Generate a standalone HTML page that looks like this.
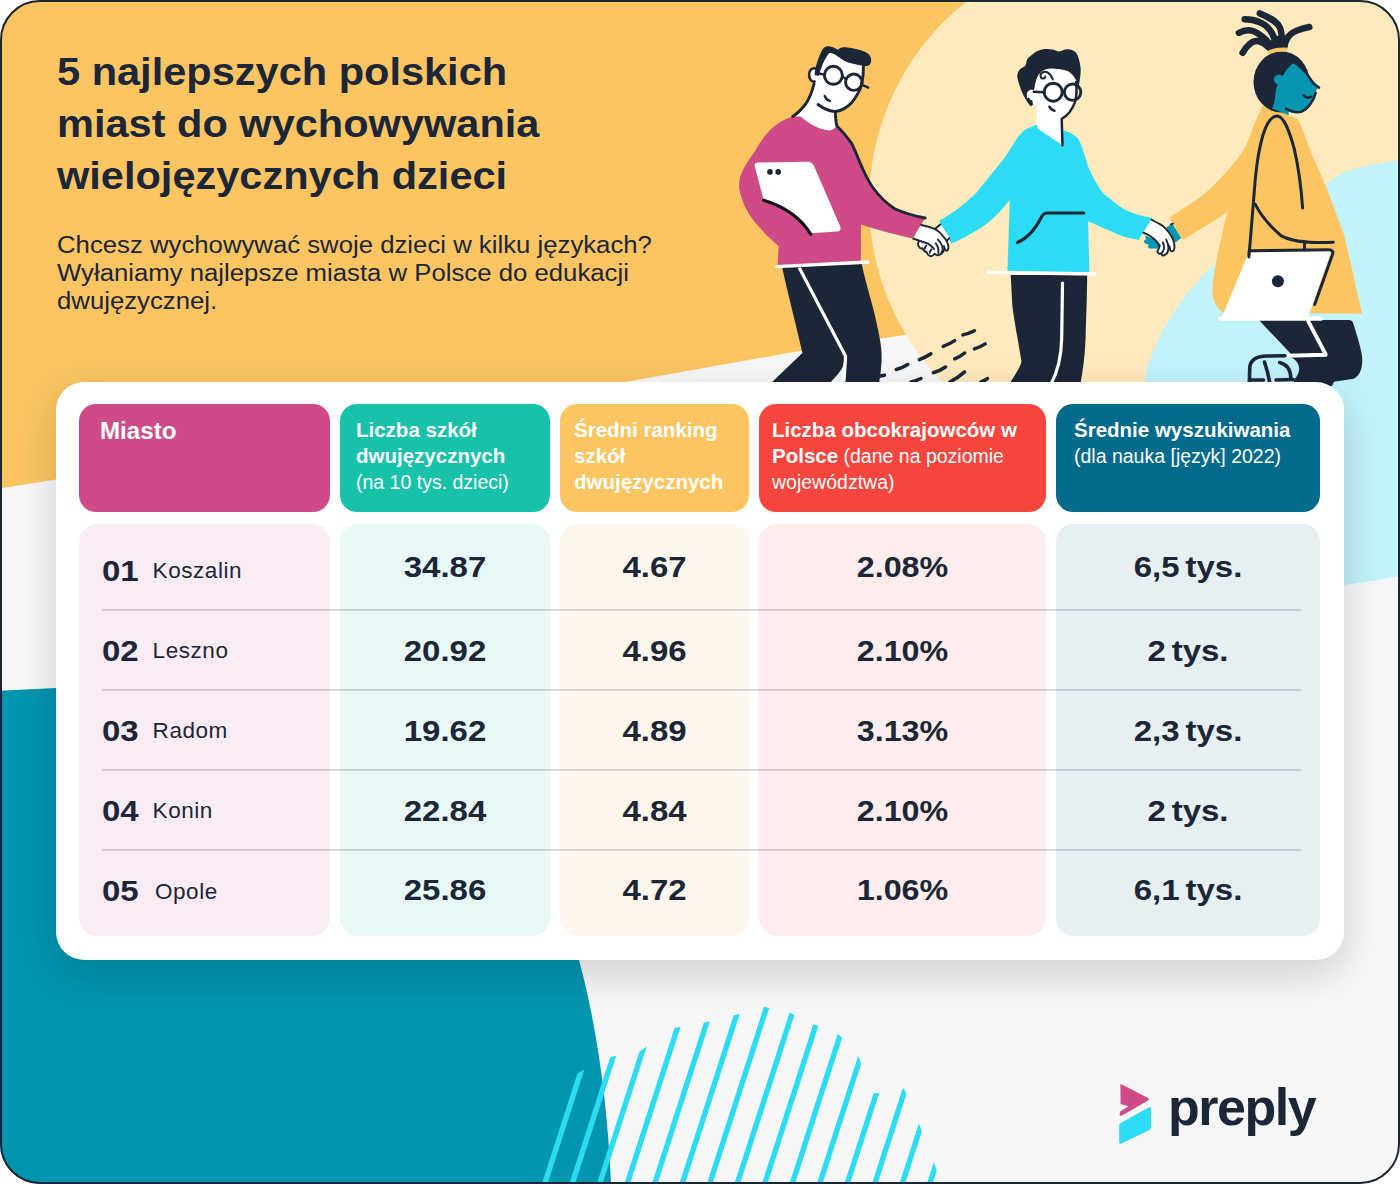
<!DOCTYPE html>
<html lang="pl">
<head>
<meta charset="utf-8">
<title>5 najlepszych polskich miast do wychowywania wielojęzycznych dzieci</title>
<style>
html,body{margin:0;padding:0;background:#fff;}
body{width:1400px;height:1184px;position:relative;overflow:hidden;font-family:"Liberation Sans",sans-serif;color:#1b2637;}
.frame{position:absolute;left:0;top:0;width:1400px;height:1184px;box-sizing:border-box;border-radius:40px;overflow:hidden;background:#f6f6f7;}
.frame-border{position:absolute;left:0;top:0;width:1400px;height:1184px;box-sizing:border-box;border:2px solid #1b2637;border-radius:40px;pointer-events:none;z-index:20;}
svg.bg{position:absolute;left:0;top:0;width:1400px;height:1184px;display:block;}
h1{position:absolute;left:57px;top:45.5px;margin:0;font-size:39px;line-height:52.2px;transform:scaleX(1.065);font-weight:700;color:#1b2637;white-space:nowrap;transform-origin:0 0;}
.sub{position:absolute;left:57px;top:231.1px;margin:0;font-size:23.5px;line-height:28px;transform:scaleX(1.095);color:#1b2637;white-space:nowrap;transform-origin:0 0;}
.card{position:absolute;left:56px;top:382px;width:1288px;height:578px;background:#fff;border-radius:28px;box-shadow:0 14px 42px rgba(10,10,20,0.17);}
.hd{position:absolute;top:22px;height:108px;border-radius:17px;color:#fff;box-sizing:border-box;}
.bd{position:absolute;top:142px;height:412px;border-radius:18px;}
.c1{left:23px;width:251px;}
.c2{left:284px;width:210px;}
.c3{left:504px;width:189px;}
.c4{left:703px;width:287px;}
.c5{left:1000px;width:264px;}
.hd.c1{background:#ce4b87;}
.hd.c2{background:#17c1aa;}
.hd.c3{background:#fcc562;}
.hd.c4{background:#f8463e;}
.hd.c5{background:#026a8a;}
.bd.c1{background:#faecf4;}
.bd.c2{background:#e8f8f7;}
.bd.c3{background:#fff7ee;}
.bd.c4{background:#ffecec;}
.bd.c5{background:#e6eff2;}
.hd p{position:absolute;margin:0;white-space:nowrap;font-size:19.5px;line-height:26px;transform-origin:0 0;}
.hd b{font-weight:700;font-size:20.5px;}
.sep{position:absolute;left:46px;width:1199px;height:2px;background:rgba(27,38,55,0.17);}
.num{position:absolute;left:46px;font-size:30px;font-weight:700;line-height:30px;white-space:nowrap;transform:scaleX(1.1);transform-origin:0 50%;}
.city{position:absolute;font-size:22.5px;line-height:26px;white-space:nowrap;letter-spacing:0.55px;}
.val{position:absolute;font-size:30px;font-weight:700;line-height:30px;text-align:center;white-space:nowrap;transform:scaleX(1.1);word-spacing:-3px;}
.val.v4{transform:scaleX(1.075);}
.logo{position:absolute;left:1168px;top:1078.5px;font-size:52px;line-height:56px;font-weight:700;color:#1b2637;letter-spacing:-1.5px;white-space:nowrap;}
</style>
</head>
<body>
<div class="frame">
<svg class="bg" viewBox="0 0 1400 1184">
<defs>
<clipPath id="stripeclip"><polygon points="560.0,1084.0 581.9,1070.7 612.2,1056.4 637.2,1052.9 674.7,1027.9 705.1,1022.5 733.6,1015.4 764.0,1007.1 786.0,1010.7 811.0,1023.6 836.0,1032.1 857.4,1053.6 871.7,1093.9 903.9,1088.6 919.9,1126.1 934.2,1162.9 941.0,1184.0 941.0,1190.0 530.0,1190.0"/></clipPath>
</defs>
<rect x="0" y="0" width="1400" height="1184" fill="#f7f7f8"/>
<!-- yellow top shape -->
<path id="yellowbg" d="M0,0 H1400 V320 H960 L906,334.8 L800,351.1 L730,363.2 L627,381.7 L340,431 L56,479.5 L0,488.6 Z" fill="#fcc562"/>
<!-- cream circle -->
<circle cx="1125.3" cy="202.5" r="256.2" fill="#feeabc"/>
<rect x="1125" y="0" width="275" height="400" fill="#feeabc"/>
<!-- light cyan blob -->
<path id="cyanbg" d="M1410.0,158.0 C1408.3,158.3 1410.0,158.0 1400.0,160.0 C1390.0,162.0 1362.4,166.0 1350.0,170.0 C1337.6,174.0 1335.8,178.2 1325.8,184.0 C1315.8,189.8 1302.6,196.8 1290.0,205.0 C1277.4,213.2 1262.5,223.2 1250.0,233.0 C1237.5,242.8 1223.4,256.2 1215.1,263.8 C1206.8,271.4 1205.5,273.0 1200.3,278.6 C1195.1,284.2 1190.1,289.3 1184.0,297.6 C1177.9,305.9 1169.4,318.5 1163.8,328.6 C1158.2,338.7 1153.4,349.6 1150.3,358.4 C1147.2,367.2 1146.1,372.8 1144.9,381.4 C1143.7,390.0 1142.2,396.9 1143.0,410.0 C1143.8,423.1 1144.7,441.7 1150.0,460.0 C1155.3,478.3 1163.3,502.5 1175.0,520.0 C1186.7,537.5 1202.5,553.7 1220.0,565.0 C1237.5,576.3 1259.3,584.7 1280.0,588.0 C1300.7,591.3 1324.0,587.0 1344.0,585.0 C1364.0,583.0 1389.0,577.8 1400.0,576.0 C1411.0,574.2 1408.3,574.3 1410.0,574.0 Z" fill="#c2f3fa"/>
<!-- ILLUS-START -->
<!-- ground dashes -->
<g id="dashes" stroke="#1b2637" stroke-width="3.5" stroke-linecap="round" fill="none">
<path d="M962.9,334.9 Q969,333.5 974.5,330.8"/>
<path d="M943.2,346.4 Q949.5,344 954.7,340.6"/>
<path d="M974.5,348.9 Q980.5,347 985.2,343.9"/>
<path d="M919.3,359.6 Q925.5,357.5 930.9,353.8"/>
<path d="M954.7,358.8 Q960.5,356.5 964.6,353"/>
<path d="M896.3,369.5 Q902.5,367.8 907.8,364.5"/>
<path d="M933.3,372.8 Q940,370.8 945.6,367"/>
<path d="M949.8,382 Q958,378 964.6,371.9"/>
<path d="M981,382 Q985,380.5 987.6,378.5"/>
<path d="M911,382 Q917,380.5 921,378.5"/>
<path d="M879,376.3 L884.5,375.2"/>
</g>
<!-- ===== person 1 ===== -->
<g id="p1">
<path d="M781.9,266 L800,266 L844.5,356 C844.5,364 842.5,369 838,374 L829,384 L770,384 L802.4,353 C795,320 788,295 781.9,266 Z" fill="#1b2637"/>
<path d="M797,266 L861.7,264 C866,285 873.2,305.2 877,325 C880.5,340 882.3,352 881.5,362 C881,370 880,377 879,384 L843.4,384 L845.2,356.3 Z" fill="#1b2637"/>
<path d="M799.1,267.4 L845.6,356.3 L843.8,384" stroke="#fff" stroke-width="3.2" fill="none" stroke-linejoin="round"/>
<!-- neck + face -->
<path d="M829.2,52 C824,58 818.5,68 815.6,76 C814,84 810,96 805.7,104 C801,110 797,114 792.6,116.4 L800,124 L828.8,134 L838,128 L835.6,111.5 C842,110 848,106 851.8,102.4 C857,96 860,90 861.7,84.3 C863,78 863.6,72 863.4,66 L850,58 Z" fill="#fff"/>
<!-- sweater -->
<path d="M792.6,116.4 C785,119 777,123 771.2,128.8 C764,136 759,144 754.7,151.8 C748,161 742,170 739.9,178.2 C738.5,184 739,190 740.5,194 C742,200 744,205 746.5,209.8 C751,218 757,225 762.9,231.2 C768,237 774,242 778.6,246 L777.7,265.5 L860.9,261.5 L860.9,224.6 C878,230 896,235 912.7,238.6 L925.1,218 C914,216 904,213 894.6,208.8 C886,203 879,196 873.2,188 C868,181 865,174 861.7,166.6 C858,158 855,150 851.8,143.6 C847,137 842,131 837,126.3 C834,129 832,130.5 828.8,130.4 C818,129 808,123 800.8,116.4 Z" fill="#ce4b87"/>
<path d="M776.9,266.6 L868,262" stroke="#fff" stroke-width="3.4" stroke-linecap="round" fill="none"/>
<!-- outlines -->
<g stroke="#1b2637" stroke-width="2.9" fill="none" stroke-linecap="round" stroke-linejoin="round">
<path d="M814,84 C812,92 809,99 805.7,104 C801,110 797,114 792.6,116.4"/>
<path d="M818,104.5 C824,109 830,111.5 835.4,111.5 C842,110.5 848,106.5 851.8,102.4 C857,96 860,90 861.7,84.3 C863,78 863.6,72 863.4,66"/>
<path d="M835.4,111.5 C835.5,118 836,123 837,126.3 C842,131 847,137 851.8,143.6 C855,150 858,158 861.7,166.6 C865,174 868,181 873.2,188 C879,196 886,203 894.6,208.8 C904,213 914,216 925.1,218"/>
</g>
<!-- ear -->
<path d="M815.5,68.4 C812,67.6 809,70.5 809.1,74.9 C809.2,79.2 811.2,81.8 814.5,81.6" fill="#fff" stroke="#1b2637" stroke-width="2.6" stroke-linecap="round"/>
<!-- hair -->
<path d="M814.6,75 C815,68 818,58 822.2,49.8 C824,47 826.5,46 828.8,46.3 C832,46.5 835,48 838,50 C839.5,47.5 842,46.8 845.2,47.3 C851,47.8 857,49 861.7,50.6 C867,52.5 870.5,55 871,58.5 C871.5,61 871,63 869.8,64.5 C868,66.5 865,66.2 861.7,65.4 C856,64.5 850,63.5 845.2,61.3 C841,59 838,56.5 835.4,54.7 C833,53.2 831,52.8 829.2,53 C826,57 823.5,62 822,66 C820.5,70 819.5,73 819,76 Z" fill="#1b2637"/>
<!-- glasses -->
<g stroke="#1b2637" stroke-width="2.9" fill="none">
<circle cx="833.4" cy="75.3" r="9"/>
<circle cx="853.8" cy="82.2" r="8.2"/>
</g>
<g stroke="#1b2637" stroke-width="2.4" fill="none" stroke-linecap="round">
<path d="M842.3,77.2 Q844.5,76.8 846,79.3"/>
<path d="M861.5,84.5 L868.3,87.6"/>
<path d="M819,73.5 L824.4,74.6"/>
<path d="M824.7,95.9 Q826,99.8 829.8,100.9"/>
</g>
<!-- tablet -->
<path d="M754.9,167 Q753.6,162.6 758,162.5 L807.5,161.7 Q812,161.7 813.8,165.5 L840,226 Q842,231.3 837,231.6 L810.7,233.2 Q796,210 763.7,200.2 Z" fill="#fff"/>
<circle cx="770" cy="171.9" r="2.8" fill="#1b2637"/>
<circle cx="778.2" cy="171.9" r="2.8" fill="#1b2637"/>
<path d="M763.7,200.2 Q796,210 810.7,234.1" stroke="#0c0f16" stroke-width="3.2" fill="none" stroke-linecap="round"/>
</g>
<!-- ===== person 2 ===== -->
<g id="p2">
<path d="M1010.7,275 L1087.2,275 C1087,300 1086,320 1085.6,338.2 C1085,355 1083,370 1080.4,384 L1009.5,384 C1016,373 1021,366 1021.4,361.2 C1018,340 1014,320 1012.3,305.2 Z" fill="#1b2637"/>
<path d="M1062.5,283 L1061.7,338.2 Q1061,366 1051,384" stroke="#fff" stroke-width="3.2" fill="none" stroke-linecap="round"/>
<!-- neck/face white -->
<path d="M1045,68 C1056,66 1070,71 1076,79.4 C1077,88 1076.5,96 1074.9,102.4 C1072,110 1067,116 1061.7,118.9 L1063,146 L1036,130 L1037,106 C1032,104 1028,101 1027,96 C1029,90 1032,86 1034,84 C1036,78 1040,72 1045,68 Z" fill="#fff"/>
<!-- hoodie -->
<path d="M1037,124.7 C1030,127 1025,129 1022.2,132.1 C1015,140 1010,150 1004.1,158.4 L976.1,193 C965,204 952,214 939.1,220.5 L951.4,243.5 C965,238 975,231 984.3,225.4 C995,218 1003,208 1009.8,199.9 L1007.4,272 L1089.4,272 L1088,221.3 C1096,224.5 1104,228.5 1111.1,231.3 C1116,233.5 1121,235.8 1125,237 L1138.7,239.9 L1151.9,217.9 C1143,216.2 1133,213.5 1125,209.7 C1117,205 1110,199 1102.9,193 C1097,185 1092,176 1088,166.6 C1085,155 1082,146 1078.2,138.7 C1074,134 1069,132 1063.4,130.4 L1062.5,145.2 L1037.8,128.8 Z" fill="#2cdcf4"/>
<path d="M987.6,272.3 L1094.6,274" stroke="#fff" stroke-width="3.6" stroke-linecap="round" fill="none"/>
<path d="M1083.9,213 L1047.5,213 Q1043.5,213 1041.5,217 C1036,228 1028,238 1017.3,242.7" stroke="#1b2637" stroke-width="3" fill="none" stroke-linecap="round" stroke-linejoin="round"/>
<!-- face outline -->
<g stroke="#1b2637" stroke-width="2.5" fill="none" stroke-linecap="round" stroke-linejoin="round">
<path d="M1076,82 C1077,90 1076.5,97 1074.9,102.4 C1072,110 1067,116 1061.7,118.9 L1062.5,145.2"/>
<path d="M1049.4,106.6 Q1051,110.2 1054.5,110.8"/>
</g>
<!-- hair -->
<path d="M1030.4,105.7 C1028.9,104.4 1025.6,99.2 1023.8,95.9 C1022.0,92.6 1020.8,89.3 1019.7,86.0 C1018.6,82.7 1017.3,78.8 1017.3,76.1 C1017.3,73.3 1018.3,71.3 1019.7,69.5 C1021.1,67.7 1024.3,67.1 1025.5,65.4 C1026.7,63.8 1026.0,61.4 1027.1,59.6 C1028.2,57.8 1030.1,56.2 1032.0,54.7 C1033.9,53.2 1036.5,51.6 1038.7,50.6 C1040.9,49.6 1042.7,49.0 1045.2,48.9 C1047.7,48.8 1051.2,49.3 1053.5,49.8 C1055.8,50.2 1057.3,51.7 1059.2,51.6 C1061.1,51.5 1062.9,49.7 1065.0,49.4 C1067.1,49.1 1069.5,48.9 1071.6,49.8 C1073.6,50.7 1075.8,51.7 1077.3,54.7 C1078.8,57.7 1080.2,63.8 1080.6,67.9 C1081.0,72.0 1080.2,76.4 1079.8,79.4 C1079.4,82.4 1078.9,86.0 1078.2,86.0 C1077.5,86.0 1077.4,81.9 1075.7,79.4 C1074.0,76.9 1071.7,73.0 1068.3,71.2 C1064.9,69.4 1058.9,69.0 1055.1,68.7 C1051.2,68.4 1047.9,68.5 1045.2,69.5 C1042.5,70.5 1040.3,72.3 1038.7,74.5 C1037.1,76.7 1036.2,80.2 1035.4,82.7 C1034.6,85.2 1034.9,88.3 1034.0,89.5 C1033.1,90.7 1031.2,89.3 1030.0,90.0 C1028.8,90.7 1027.4,92.1 1027.0,93.5 C1026.6,94.9 1026.8,97.2 1027.5,98.5 C1028.2,99.8 1030.6,100.6 1031.5,101.5 C1032.4,102.4 1033.2,103.3 1033.0,104.0 C1032.8,104.7 1031.9,107.0 1030.4,105.7 Z" fill="#1b2637"/>
<path d="M1034.5,90.5 C1031,89 1027.5,90.5 1026.8,94 C1026.5,98 1029,101 1032.5,101.5 L1037,103 L1037,92 Z" fill="#fff"/>
<path d="M1032.5,101.5 C1030.5,101.2 1028.8,100 1027.8,98" stroke="#1b2637" stroke-width="2" fill="none"/>
<!-- curl -->
<path d="M1052.7,79.4 C1051.5,76 1050,74 1048.5,73.1 C1047,72 1045,71.6 1043.6,72 C1041.5,72.6 1040.4,74 1040.6,75.8 C1040.8,77.6 1041.6,78.6 1042.6,78.6 C1044,78.6 1045,77.8 1045.2,76.6" stroke="#1b2637" stroke-width="2" fill="none" stroke-linecap="round"/>
<!-- glasses -->
<g stroke="#1b2637" stroke-width="2.9" fill="none">
<circle cx="1053.2" cy="92.2" r="9"/>
<circle cx="1072.6" cy="92.2" r="8.2"/>
</g>
<g stroke="#1b2637" stroke-width="2.4" fill="none" stroke-linecap="round">
<path d="M1033.7,91.7 L1044.2,92.2"/>
<path d="M1062.2,91.5 L1064.4,91.5"/>
</g>
</g>
<!-- ===== person 3 ===== -->
<g id="p3">
<path d="M1258.9,320 L1349,320 Q1352.5,320 1353.3,323.5 C1357.5,337 1361,348 1362.1,356.5 C1363,368 1360,376 1353.7,378.8 L1334,381.8 L1332,386 L1293,386 L1294.3,379.3 C1298.6,375.5 1300.8,368.5 1297.5,363 C1295,359 1291,357 1286.5,356.3 L1290.5,353.6 Z" fill="#1b2637"/>
<path d="M1308.2,321.2 L1325.8,354.7 L1286.8,355.8" stroke="#fff" stroke-width="3.9" fill="none" stroke-linejoin="round" stroke-linecap="round"/>
<g stroke="#1b2637" stroke-width="3.6" fill="none" stroke-linecap="round" stroke-linejoin="round">
<path d="M1249.3,384 L1249.8,367 Q1251,356.6 1266.4,356 L1285,355.8"/>
<path d="M1264.5,362 Q1268,372 1270,384"/>
<path d="M1279.6,362.5 Q1290.5,365 1290.8,378 "/>
<path d="M1250,380 L1263.5,380 M1276,380 L1293,379.5"/>
</g>
<!-- coat -->
<path d="M1262.7,105 L1298,119 C1303,130 1307,141 1311,152.4 L1325.8,185.8 L1344.4,235.8 L1362.1,313.8 L1224,312.5 C1216,309 1212.5,300 1212.4,290.8 C1212.5,284 1213.5,278 1214.3,272.9 C1218,250 1223,230 1227.3,212.5 L1182.7,240.1 L1169.5,217.4 C1173.6,215.2 1180.8,210.2 1186.5,206.3 C1192.2,202.4 1198.2,199.2 1205.0,193.3 C1211.8,187.4 1220.8,178.4 1227.3,171.0 C1233.8,163.6 1239.8,156.1 1244.1,148.7 C1248.4,141.3 1250.3,133.7 1253.4,126.4 C1256.5,119.1 1261.2,108.6 1262.7,105.0 Z" fill="#fcc562"/>
<!-- teal cuff -->
<!-- head -->
<ellipse cx="1281.5" cy="82" rx="28" ry="30.5" fill="#1b2637"/>
<path d="M1294.2,62.5 C1302,67 1308,75 1312,81.5 C1314,84.5 1317,86 1319,87.6 C1316.5,89 1315.5,92 1314.8,96.6 C1312,104 1307,110 1301.7,111.8 C1297,113.3 1292,112.8 1288.7,111.8 L1288.5,115.2 L1272,108.5 C1274.5,104 1275,99 1275.5,93 C1275.8,88.5 1277,86 1278,84.5 C1274.5,83.5 1273,80 1274.5,77 C1276,74 1280,73.5 1282.5,76.5 C1285,71 1289,66 1294.2,62.5 Z" fill="#0796b2"/>
<g stroke="#1b2637" stroke-width="2.5" fill="none" stroke-linecap="round" stroke-linejoin="round">
<path d="M1294.2,62.5 C1302,67 1308,75 1312,81.5 C1314,84.5 1317,86 1319,87.6"/>
<path d="M1315.6,92.9 C1314,100 1308.5,108.5 1301.7,111.6 C1297,113 1291,111.5 1285.9,108.7"/>
<path d="M1303.5,95.2 Q1306.5,99 1311,96.8"/>
</g>
<g stroke="#1b2637" stroke-width="6.5" fill="none" stroke-linecap="round">
<path d="M1282,44 C1282,36 1281.5,31 1279.9,27.6 C1277.5,22.5 1273,19 1259.8,13.4"/>
<path d="M1276,44 C1274.5,38 1273,34 1270.4,30.7 C1267,26 1262,23 1259.8,22.2 C1255,20 1250,19.2 1244.7,19.2"/>
<path d="M1271,46.5 C1268.5,42 1265.5,39 1262,36.4 C1258.5,33.5 1255,31.3 1251.4,30.6 C1247,29.8 1243,30.8 1238.9,32.8"/>
<path d="M1270,48.5 C1266,44.5 1262.5,42 1258.8,41.2 C1255,40.5 1252,41.8 1249.3,44.4 C1246.5,46.8 1244.5,49.5 1242.6,52.8"/>
<path d="M1284.3,47 C1284.8,43.5 1285.8,40.5 1287.3,38 C1289.5,34.5 1293,32.3 1296.8,30.6 C1300.5,29 1305,27.8 1309.3,27"/>
</g>
<path d="M1268,49 L1272,38 L1283,34 L1287.5,40 L1286.5,49 Z" fill="#1b2637"/>
<path d="M1267.3,54.6 Q1277,50.4 1287.6,51.6 L1286.6,47.6 Q1276.5,46.6 1268.4,50.6 Z" fill="#fcc562"/>
<!-- strap + arm lines -->
<g stroke="#1b2637" stroke-width="3" fill="none" stroke-linecap="round" stroke-linejoin="round">
<path d="M1249,256.5 L1255.2,180 C1257,160 1260,145 1263,135 C1267,122 1272,116 1277.5,116.1 C1284,117 1289,130 1294.2,148.7 C1298,165 1301,185 1302.6,207.9"/>
<path d="M1255.2,204.2 C1262,218 1272,228 1281.2,235.8 C1295,243 1315,243 1333.3,242.3"/>
<path d="M1304.5,244 L1304.5,250"/>
</g>
<!-- laptop -->
<path d="M1248.7,252.5 L1331.4,251 L1308.2,317 L1221.8,317.5 Z" fill="#fff"/>
<path d="M1220,318.6 L1321,318.6" stroke="#fff" stroke-width="4.4" stroke-linecap="round" fill="none"/>
<path d="M1248.9,257 L1249.3,250.8 L1328.5,249.8 Q1334.5,249.8 1332.3,255 L1314.7,304.5" stroke="#1b2637" stroke-width="3" fill="none" stroke-linecap="round" stroke-linejoin="round"/>
<circle cx="1277.9" cy="281.3" r="6" fill="#1b2637"/>
</g>
<!-- ===== hands ===== -->
<g id="hands" stroke-linecap="round" stroke-linejoin="round">
<!-- p1/p2 clasp -->
<path d="M935.1,228.6 L940.6,224.2 L949.8,237.6 L946.7,240.6 Z" fill="#fff"/>
<path d="M921.1,225 C926,226 931,227.2 935.1,229.2 C938.5,231 941,233.3 942.8,235.8 C944.8,238 946.3,240.2 947.2,242.3 C948.2,244.3 948.7,246.2 948.4,247.8 C948.2,249.6 947.5,250.6 946.6,250.6 L944.2,249.8 C943.6,251.8 942,253.6 939.8,254.6 C938,255.6 936,255.2 934.5,253.6 C933.8,255 932.8,256.2 931,256.2 C929,256.3 927.5,254.5 926.6,252 C924.8,252 923.4,250.5 922.6,248.2 C921,248.8 919.6,248 918.9,246.6 C917.6,245 917.8,242.8 919.2,240.7 L913.2,238.5 Z" fill="#fff"/>
<g fill="none" stroke="#1b2637" stroke-width="1.9" stroke-linecap="round" stroke-linejoin="round">
<path d="M935.1,228.8 L940.4,224.4 M946.9,240.6 L949.3,238.2"/>
<path d="M921.1,225 C926,226 931,227.2 935.1,229.2 C938.5,231 941,233.3 942.8,235.8 C944.8,238 946.3,240.2 947.2,242.3 C948.2,244.3 948.7,246.2 948.4,247.8 C948.2,249.6 947.5,250.6 946.6,250.6 C945.4,250.5 944.5,248.5 943.9,246.2"/>
<path d="M913.2,238.5 L919.2,240.7 C921.5,241.5 924.5,242.3 927.5,243.4 C930,244.6 932,246.5 934,248.9"/>
<path d="M919.2,240.7 C917.8,242.8 917.6,245 918.9,246.6 C919.6,248 921,248.8 922.6,248.2 C923.4,250.5 924.8,252 926.6,252 C927.5,254.5 929,256.3 931,256.2 C932.8,256.2 933.8,255 934.5,253.6 C936,255.2 938,255.6 939.8,254.6 C942,253.5 943.6,251.5 944.2,249.2"/>
<path d="M937.9,239.6 C940.5,242 942.3,245 942.6,248.5 C942.7,250.3 942.3,251.6 941.5,252.4"/>
<path d="M935.7,243.4 C937.8,246 938.8,249.5 938.4,253"/>
<path d="M926.4,245.8 C925.4,246.6 924.8,247.6 924.7,248.6 M931.3,249.5 C930.3,250.4 929.8,251.6 929.7,252.8"/>
</g>
<!-- p2/p3 clasp -->
<path d="M1166.2,227.5 L1172.4,223.7 L1181.2,237.9 L1175.5,242.5 Z" fill="#0796b2"/>
<path d="M1171,224.4 L1172.8,223.6" fill="none" stroke="#1b2637" stroke-width="2"/>
<path d="M1146,235.8 L1156,240.5 L1160,246 L1159,248.4 L1149.2,248.6 C1147.6,247.6 1147.6,245.6 1149,244.9 L1145.2,243.6 C1143.5,242.6 1143.5,240.6 1145.2,239.8 L1146.5,239.2 C1145,238.2 1145,236.5 1146,235.8 Z" fill="#0796b2"/>
<path d="M1151.4,219.6 C1154,221 1157,222.5 1159,223.7 C1161.5,225 1164,227 1165.6,228.6 C1167.8,230.8 1169.7,233.4 1171.1,235.8 C1172.5,238 1173.4,240.2 1173.9,242.3 C1174.5,244.3 1174.7,246.3 1174.4,247.8 C1174.2,249.6 1173.6,250.8 1172.8,251.1 C1171.8,251.4 1171,251 1170.6,250.6 L1168.4,248.9 C1168.2,251.5 1167,253.5 1165.6,254.4 C1164.5,255.3 1163.5,255.6 1162.9,255.5 C1162,255.3 1161.5,254.5 1161.2,253.3 C1160.3,253.9 1159.3,253.9 1158.5,253.3 C1157.5,252.6 1157.2,251.8 1157.4,251.1 C1158,250 1158.6,248.8 1159,247.8 C1159.5,247 1159.7,246.3 1159.6,245.6 C1158.5,243.8 1157.2,242.2 1155.8,240.7 C1154,238.8 1151.8,237.2 1149.7,235.8 C1147.6,234.6 1145.4,233.6 1143.4,232.7 Z" fill="#fff"/>
<g fill="none" stroke="#1b2637" stroke-width="1.9" stroke-linecap="round" stroke-linejoin="round">
<path d="M1151.4,219.6 C1154,221 1157,222.5 1159,223.7 C1161.5,225 1164,227 1165.6,228.6 C1167.8,230.8 1169.7,233.4 1171.1,235.8 C1172.5,238 1173.4,240.2 1173.9,242.3 C1174.5,244.3 1174.7,246.3 1174.4,247.8 C1174.2,249.6 1173.6,250.8 1172.8,251.1 C1171.8,251.4 1171,251 1170.6,250.6 C1170,249.5 1169.6,247.8 1169.5,246.2"/>
<path d="M1166.2,239.6 C1167.8,242.5 1168.6,246 1168.4,248.9 C1168.2,251.5 1167,253.5 1165.6,254.4 C1164.5,255.3 1163.5,255.6 1162.9,255.5 C1162,255.3 1161.5,254.5 1161.2,253.3"/>
<path d="M1162.9,242.3 C1163.8,244.5 1164.2,246.5 1164,248.4 C1163.6,250.5 1162.6,252.2 1161.2,253.3 C1160.3,253.9 1159.3,253.9 1158.5,253.3 C1157.5,252.6 1157.2,251.8 1157.4,251.1 C1158,250 1158.6,248.8 1159,247.8 C1159.5,247 1159.7,246.3 1159.6,245.6 C1158.5,243.8 1157.2,242.2 1155.8,240.7 C1154,238.8 1151.8,237.2 1149.7,235.8 C1147.6,234.6 1145.4,233.6 1143.4,232.7"/>
</g>
</g>
<!-- ILLUS-END -->
<!-- teal bottom-left -->
<path id="tealbg" d="M0,690.8 L56,688 C300,652 520,760 579,960 C598,1030 608,1110 611,1184 L0,1184 Z" fill="#0295b0"/>
<!-- preply logo icon -->
<g id="logoicon">
<path d="M1120.4,1085.6 Q1119.9,1083.6 1121.8,1084.6 L1148,1098 Q1150,1099.2 1148,1100.4 L1122,1115.4 Q1119.4,1116.6 1119.6,1114 L1120.2,1111.6 L1128.5,1106.2 L1120.6,1104 Z" fill="#ce4b87"/>
<path d="M1120.2,1123.2 L1148.6,1107.4 Q1151,1106.2 1151,1108.8 L1151,1127.6 Q1151,1129.2 1149.4,1130 L1121.6,1143.4 Q1119.2,1144.4 1119.2,1142 L1119.2,1124.8 Q1119.2,1123.8 1120.2,1123.2 Z" fill="#2cdcf4"/>
</g>
<!-- striped circle -->
<g id="stripes" clip-path="url(#stripeclip)" stroke="#2cdcf4" stroke-width="5.4" fill="none">
<line x1="582.9" y1="980" x2="513.9" y2="1194"/>
<line x1="610.4" y1="980" x2="541.4" y2="1194"/>
<line x1="637.9" y1="980" x2="568.9" y2="1194"/>
<line x1="665.4" y1="980" x2="596.4" y2="1194"/>
<line x1="692.9" y1="980" x2="623.9" y2="1194"/>
<line x1="720.4" y1="980" x2="651.4" y2="1194"/>
<line x1="747.9" y1="980" x2="678.9" y2="1194"/>
<line x1="775.4" y1="980" x2="706.4" y2="1194"/>
<line x1="802.9" y1="980" x2="733.9" y2="1194"/>
<line x1="830.4" y1="980" x2="761.4" y2="1194"/>
<line x1="857.9" y1="980" x2="788.9" y2="1194"/>
<line x1="885.4" y1="980" x2="816.4" y2="1194"/>
<line x1="912.9" y1="980" x2="843.9" y2="1194"/>
<line x1="940.4" y1="980" x2="871.4" y2="1194"/>
<line x1="967.9" y1="980" x2="898.9" y2="1194"/>
<line x1="995.4" y1="980" x2="926.4" y2="1194"/>
<line x1="1022.9" y1="980" x2="953.9" y2="1194"/>
</g>
</svg>
<h1>5 najlepszych polskich<br>miast do wychowywania<br>wielojęzycznych dzieci</h1>
<p class="sub">Chcesz wychowywać swoje dzieci w kilku językach?<br>Wyłaniamy najlepsze miasta w Polsce do edukacji<br>dwujęzycznej.</p>
<div class="card">
<div class="hd c1"><p style="left:21px;top:13.5px;font-size:22px;transform:scaleX(1.05);"><b style="font-size:23px">Miasto</b></p></div>
<div class="hd c2"><p style="left:16px;top:13px;"><b>Liczba szkół<br>dwujęzycznych</b><br>(na 10 tys. dzieci)</p></div>
<div class="hd c3"><p style="left:14px;top:13px;"><b>Średni ranking<br>szkół<br>dwujęzycznych</b></p></div>
<div class="hd c4"><p style="left:13px;top:13px;"><b>Liczba obcokrajowców w<br>Polsce</b> (dane na poziomie<br>województwa)</p></div>
<div class="hd c5"><p style="left:18px;top:13px;"><b>Średnie wyszukiwania</b><br>(dla nauka [język] 2022)</p></div>
<div class="bd c1"></div>
<div class="bd c2"></div>
<div class="bd c3"></div>
<div class="bd c4"></div>
<div class="bd c5"></div>
<div class="sep" style="top:227px"></div>
<div class="sep" style="top:307px"></div>
<div class="sep" style="top:387px"></div>
<div class="sep" style="top:467px"></div>
<div class="num" style="top:173.6px">01</div>
<div class="city" style="left:96.6px;top:176.0px">Koszalin</div>
<div class="val" style="left:284px;width:210px;top:169.6px">34.87</div>
<div class="val" style="left:504px;width:189px;top:169.6px">4.67</div>
<div class="val v4" style="left:703px;width:287px;top:169.6px">2.08%</div>
<div class="val" style="left:1000px;width:264px;top:169.6px">6,5 tys.</div>
<div class="num" style="top:253.6px">02</div>
<div class="city" style="left:96.6px;top:256.0px">Leszno</div>
<div class="val" style="left:284px;width:210px;top:253.6px">20.92</div>
<div class="val" style="left:504px;width:189px;top:253.6px">4.96</div>
<div class="val v4" style="left:703px;width:287px;top:253.6px">2.10%</div>
<div class="val" style="left:1000px;width:264px;top:253.6px">2 tys.</div>
<div class="num" style="top:333.6px">03</div>
<div class="city" style="left:96.6px;top:336.0px">Radom</div>
<div class="val" style="left:284px;width:210px;top:333.6px">19.62</div>
<div class="val" style="left:504px;width:189px;top:333.6px">4.89</div>
<div class="val v4" style="left:703px;width:287px;top:333.6px">3.13%</div>
<div class="val" style="left:1000px;width:264px;top:333.6px">2,3 tys.</div>
<div class="num" style="top:413.6px">04</div>
<div class="city" style="left:96.6px;top:416.0px">Konin</div>
<div class="val" style="left:284px;width:210px;top:413.6px">22.84</div>
<div class="val" style="left:504px;width:189px;top:413.6px">4.84</div>
<div class="val v4" style="left:703px;width:287px;top:413.6px">2.10%</div>
<div class="val" style="left:1000px;width:264px;top:413.6px">2 tys.</div>
<div class="num" style="top:493.6px">05</div>
<div class="city" style="left:99.0px;top:496.5px">Opole</div>
<div class="val" style="left:284px;width:210px;top:492.6px">25.86</div>
<div class="val" style="left:504px;width:189px;top:492.6px">4.72</div>
<div class="val v4" style="left:703px;width:287px;top:492.6px">1.06%</div>
<div class="val" style="left:1000px;width:264px;top:492.6px">6,1 tys.</div>
</div>
<div class="logo">preply</div>
</div>
<div class="frame-border"></div>
</body>
</html>
